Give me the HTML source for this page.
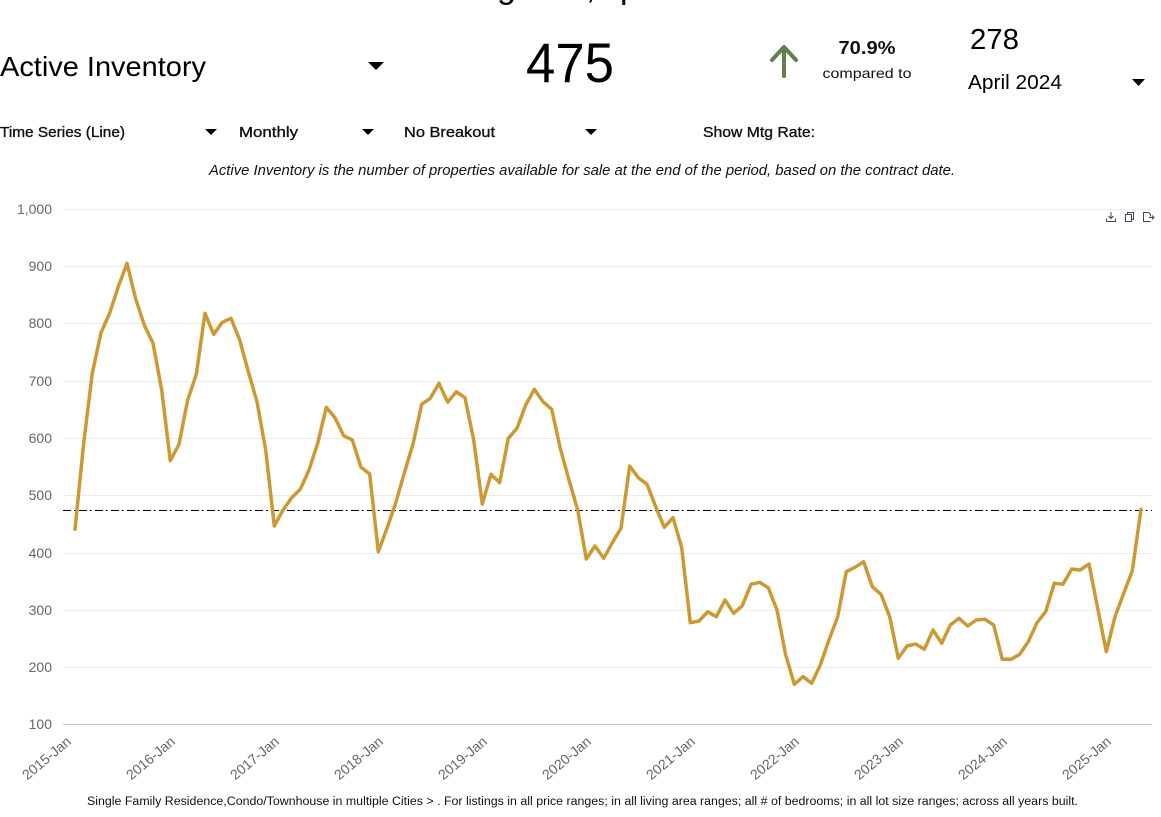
<!DOCTYPE html>
<html>
<head>
<meta charset="utf-8">
<style>
  html,body{margin:0;padding:0;background:#fff;}
  body{width:1161px;height:817px;overflow:hidden;}
  svg{display:block;}
  text{font-family:"Liberation Sans","DejaVu Sans",sans-serif;}
</style>
</head>
<body>
<svg width="1161" height="817" viewBox="0 0 1161 817" xmlns="http://www.w3.org/2000/svg">
  <!-- clipped title descenders -->
  <g font-size="34" fill="#000">
    <text x="497" y="-2">g</text>
    <text x="586" y="-2">,</text>
    <text x="620" y="-2">p</text>
  </g>

  <!-- Header row -->
  <text x="0" y="76" font-size="28" fill="#000" textLength="206" lengthAdjust="spacingAndGlyphs">Active Inventory</text>
  <polygon points="368,62 384,62 376,70" fill="#000"/>

  <text x="526" y="82" font-size="56" fill="#000" textLength="88" lengthAdjust="spacingAndGlyphs">475</text>

  <!-- arrow -->
  <g stroke="#63804a" stroke-width="4" stroke-linecap="round" stroke-linejoin="round" fill="none">
    <line x1="784" y1="76" x2="784" y2="48"/>
    <polyline points="772,60 784,47 796,60"/>
  </g>
  <text x="867" y="54" font-size="18" font-weight="bold" fill="#111" text-anchor="middle" textLength="57" lengthAdjust="spacingAndGlyphs">70.9%</text>
  <text x="867" y="78" font-size="14" fill="#111" text-anchor="middle" textLength="89" lengthAdjust="spacingAndGlyphs">compared to</text>

  <text x="970" y="49" font-size="29" fill="#000" textLength="49" lengthAdjust="spacingAndGlyphs">278</text>
  <text x="968" y="89" font-size="20" fill="#000" textLength="94" lengthAdjust="spacingAndGlyphs">April 2024</text>
  <polygon points="1132,79 1145,79 1138.5,86" fill="#000"/>

  <!-- Controls row -->
  <g font-size="15" fill="#111" stroke="#111" stroke-width="0.35">
    <text x="0" y="137" textLength="125" lengthAdjust="spacingAndGlyphs">Time Series (Line)</text>
    <text x="239" y="137" textLength="59" lengthAdjust="spacingAndGlyphs">Monthly</text>
    <text x="404" y="137" textLength="91" lengthAdjust="spacingAndGlyphs">No Breakout</text>
    <text x="703" y="137" textLength="112" lengthAdjust="spacingAndGlyphs">Show Mtg Rate:</text>
  </g>
  <polygon points="205,129 217,129 211,135" fill="#000"/>
  <polygon points="362,129 374,129 368,135" fill="#000"/>
  <polygon points="585,129 597,129 591,135" fill="#000"/>

  <!-- description -->
  <text x="582" y="175" font-size="14.5" font-style="italic" fill="#111" text-anchor="middle" textLength="746" lengthAdjust="spacingAndGlyphs">Active Inventory is the number of properties available for sale at the end of the period, based on the contract date.</text>

  <!-- toolbar icons -->
  <g stroke="#445" stroke-width="1" fill="none">
    <path d="M1106.5,221.5 h9 v-3 M1106.5,221.5 v-3 M1111,212 v6 M1108.5,216 l2.5,2.5 l2.5,-2.5"/>
    <rect x="1125.5" y="214.5" width="6" height="7"/>
    <path d="M1127.5,214.5 v-2 h6 v7 h-2"/>
    <path d="M1150.5,221.5 h-7 v-9 h5 l2,2 v2 M1149,217.5 h5 M1152,215.5 l2,2 l-2,2"/>
  </g>

  <!-- gridlines -->
  <g stroke="#ececec" stroke-width="1">
    <line x1="63" y1="209.5" x2="1152" y2="209.5"/>
    <line x1="63" y1="266.5" x2="1152" y2="266.5"/>
    <line x1="63" y1="323.5" x2="1152" y2="323.5"/>
    <line x1="63" y1="381.5" x2="1152" y2="381.5"/>
    <line x1="63" y1="438.5" x2="1152" y2="438.5"/>
    <line x1="63" y1="495.5" x2="1152" y2="495.5"/>
    <line x1="63" y1="553.5" x2="1152" y2="553.5"/>
    <line x1="63" y1="610.5" x2="1152" y2="610.5"/>
    <line x1="63" y1="667.5" x2="1152" y2="667.5"/>
  </g>
  <line x1="63" y1="724.5" x2="1152" y2="724.5" stroke="#c4c4c4" stroke-width="1"/>

  <!-- y labels -->
  <g font-size="14" fill="#666" text-anchor="end">
    <text x="52" y="214">1,000</text>
    <text x="52" y="271">900</text>
    <text x="52" y="328">800</text>
    <text x="52" y="386">700</text>
    <text x="52" y="443">600</text>
    <text x="52" y="500">500</text>
    <text x="52" y="558">400</text>
    <text x="52" y="615">300</text>
    <text x="52" y="672">200</text>
    <text x="52" y="729">100</text>
  </g>

  <!-- x labels -->
  <g font-size="14" fill="#666" text-anchor="end">
    <text transform="translate(72,743) rotate(-40)">2015-Jan</text>
    <text transform="translate(176,743) rotate(-40)">2016-Jan</text>
    <text transform="translate(280,743) rotate(-40)">2017-Jan</text>
    <text transform="translate(384,743) rotate(-40)">2018-Jan</text>
    <text transform="translate(488,743) rotate(-40)">2019-Jan</text>
    <text transform="translate(592,743) rotate(-40)">2020-Jan</text>
    <text transform="translate(696,743) rotate(-40)">2021-Jan</text>
    <text transform="translate(800,743) rotate(-40)">2022-Jan</text>
    <text transform="translate(904,743) rotate(-40)">2023-Jan</text>
    <text transform="translate(1008,743) rotate(-40)">2024-Jan</text>
    <text transform="translate(1112,743) rotate(-40)">2025-Jan</text>
  </g>

  <!-- reference dash-dot line -->
  <line x1="63" y1="510.5" x2="1152" y2="510.5" stroke="#000" stroke-width="1" stroke-dasharray="8,3,2,3"/>

  <!-- series -->
  <polyline fill="none" stroke="#cc9933" stroke-width="3.5" stroke-linejoin="round" stroke-linecap="round" points="
75,529.3 83.7,443 92.3,373.3 101,332.7 109.7,313 118.3,286.7 127,263.3 135.7,299 144.3,325 153,343.3 161.7,390 170.3,460.7
179,444.3 187.7,400 196.3,374.3 205,313.3 213.7,334.3 222.3,322.3 231,318.3 239.7,340 248.3,371.7 257,401.7 265.7,450 274.3,526
283,510 291.7,497.7 300.3,489.3 309,470 317.7,443.3 326.3,407.3 335,417.7 343.7,435.7 352.3,440 361,467.3 369.7,474 378.3,551.7
387,528.3 395.7,503 404.3,473 413,444 421.7,404.3 430.3,398.3 439,383.3 447.7,402.3 456.3,391.7 465,397.7 473.7,440 482.3,504
491,474.3 499.7,482.7 508.3,438.3 517,428.3 525.7,405 534.3,389.3 543,401.7 551.7,409.3 560.3,448.3 569,480 577.7,510 586.3,559
595,546 603.7,558.3 612.3,542.7 621,528.3 629.7,466 638.3,477.7 647,484.3 655.7,506.7 664.3,527.3 673,517.7 681.7,547.7 690.3,622.7
699,621 707.7,611.7 716.3,616.7 725,600 733.7,613.3 742.3,605.7 751,584.3 759.7,582.3 768.3,587.7 777,610 785.7,655 794.3,684.3
803,676.7 811.7,683.3 820.3,665 829,640 837.7,616.7 846.3,571.7 855,567.3 863.7,561.7 872.3,586.7 881,594.3 889.7,616.7 898.3,658.3
907,646 915.7,644 924.3,649.3 933,630 941.7,643.3 950.3,625 959,618.3 967.7,626 976.3,620 985,619.3 993.7,625 1002.3,659.3
1011,659.3 1019.7,654.3 1028.3,641.7 1037,622.7 1045.7,611.7 1054.3,583.3 1063,584.3 1071.7,569 1080.3,570 1089,564 1097.7,608.3 1106.3,651.7
1115,616.7 1123.7,593.3 1132.3,570.7 1141,509.3"/>

  <!-- footer -->
  <text x="582.5" y="805" font-size="11.5" fill="#111" text-anchor="middle" textLength="991" lengthAdjust="spacingAndGlyphs">Single Family Residence,Condo/Townhouse in multiple Cities &gt; . For listings in all price ranges; in all living area ranges; all # of bedrooms; in all lot size ranges; across all years built.</text>
</svg>
</body>
</html>
